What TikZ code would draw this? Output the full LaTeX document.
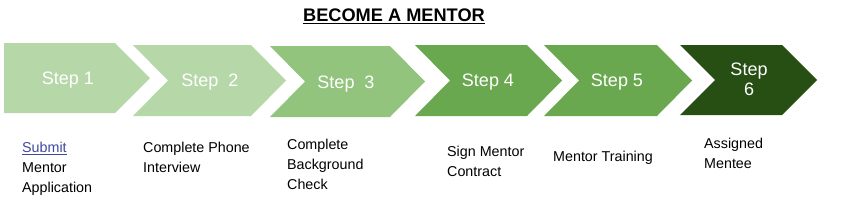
\documentclass[tikz,border=0pt]{standalone}
\usepackage{fontspec}
\setmainfont{Liberation Sans}
\definecolor{gA}{HTML}{B6D7A8}
\definecolor{gB}{HTML}{93C47D}
\definecolor{gC}{HTML}{6AA84F}
\definecolor{gD}{HTML}{274E13}
\definecolor{linkblue}{RGB}{64,72,160}
\begin{document}
\begin{tikzpicture}[x=1pt,y=-1pt,
  steptxt/.style={text=white,font=\fontsize{18}{20}\selectfont,inner sep=0,anchor=base},
  desc/.style={font=\fontsize{14.3}{20}\selectfont,align=left,anchor=north west,inner sep=0}]
\useasboundingbox (0,0) rectangle (854,202);
% title
\node[font=\fontsize{18.2}{20}\selectfont\bfseries,anchor=base,inner sep=0] (title) at (394,21.7) {BECOME A MENTOR};
\draw[line width=1.5pt] ([yshift=-2pt]title.base west) -- ([yshift=-2pt]title.base east);
% arrows
\fill[gA] (4,43) -- (115,43) -- (150,78) -- (115,113) -- (4,113) -- cycle;
\fill[gA] (133,45) -- (251,45) -- (286,80.5) -- (251,116) -- (133,116) -- (168,80.5) -- cycle;
\fill[gB] (270,46) -- (390,46) -- (425,81.5) -- (390,117) -- (270,117) -- (305,81.5) -- cycle;
\fill[gC] (415,45) -- (527,45) -- (562,80.5) -- (527,116) -- (415,116) -- (450,80.5) -- cycle;
\fill[gC] (544,45) -- (657,45) -- (692,80.5) -- (657,116) -- (544,116) -- (579,80.5) -- cycle;
\fill[gD] (680,45) -- (782,45) -- (817,80) -- (782,115) -- (680,115) -- (715,80) -- cycle;
% step labels
\node[steptxt] (s1) at (68,84) {Step 1};
\node[steptxt] (s2) at (210,86) {Step\ \ 2};
\node[steptxt] (s3) at (346,88) {Step\ \ 3};
\node[steptxt] (s4) at (488,86) {Step 4};
\node[steptxt] (s5) at (617,86) {Step 5};
\node[steptxt,align=center,anchor=north] (s6) at (749,63.2) {Step\\6};
% descriptions
\node[desc] (d1) at (22,141.6) {{\color{linkblue}\underline{Submit}}\\Mentor\\Application};
\node[desc] (d2) at (143,141.6) {Complete Phone\\Interview};
\node[desc] (d3) at (287,139.1) {Complete\\Background\\Check};
\node[desc] (d4) at (447,145.6) {Sign Mentor\\Contract};
\node[desc] (d5) at (553,150.6) {Mentor Training};
\node[desc] (d6) at (704,138.1) {Assigned\\Mentee};
\end{tikzpicture}
\end{document}
